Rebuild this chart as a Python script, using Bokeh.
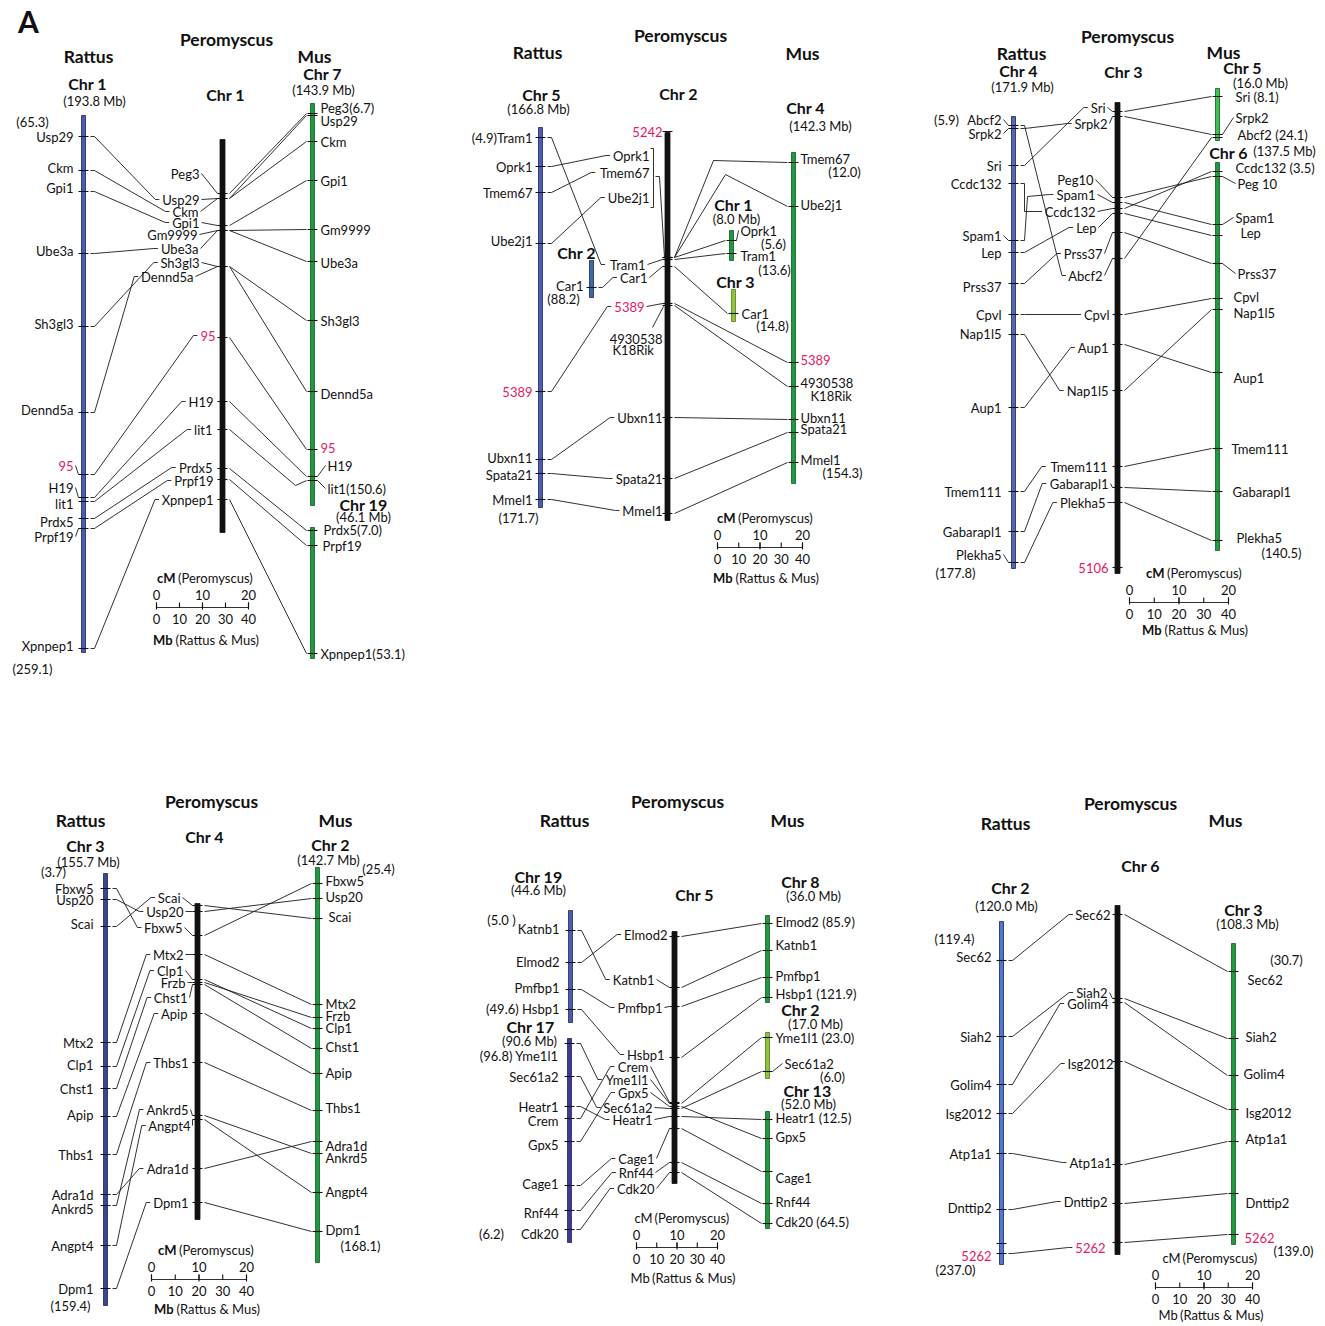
from bokeh.plotting import figure
from bokeh.models import Range1d
from bokeh.embed import file_html
from bokeh.resources import INLINE
from bokeh.core.properties import value

# ============================ DATA ============================
# Gene positions are map positions (drawing units, top -> bottom)

# ---- Panel 1: Rattus Chr1 / Peromyscus Chr1 / Mus Chr7+19
P1_RAT_GENES = ["Usp29", "Ckm", "Gpi1", "Ube3a", "Sh3gl3", "Dennd5a", "95", "H19", "lit1", "Prdx5", "Prpf19", "Xpnpep1"]
P1_RAT_POS = [136, 170, 191, 253, 326, 412, 474, 497, 501, 518, 528, 648]
P1_PERO_GENES = ["Peg3", "Usp29", "Ckm", "Gpi1", "Gm9999", "Ube3a", "Sh3gl3", "Dennd5a", "95", "H19", "lit1", "Prdx5", "Prpf19", "Xpnpep1"]
P1_PERO_POS = [193, 198, 198, 225, 230, 230, 266, 266, 337, 401, 429, 468, 479, 499]
P1_MUS_GENES = ["Peg3", "Usp29", "Ckm", "Gpi1", "Gm9999", "Ube3a", "Sh3gl3", "Dennd5a", "95", "H19", "lit1", "Prdx5", "Prpf19", "Xpnpep1"]
P1_MUS_LABELS = ["Peg3(6.7)", "Usp29", "Ckm", "Gpi1", "Gm9999", "Ube3a", "Sh3gl3", "Dennd5a", "95", "H19", "lit1(150.6)", "Prdx5(7.0)", "Prpf19", "Xpnpep1(53.1)"]
P1_MUS_CHR = [0, 0, 0, 0, 0, 0, 0, 0, 0, 0, 0, 1, 1, 1]
P1_MUS_POS = [113, 115, 141, 180, 229, 261, 320, 391, 449, 476, 480, 530, 545, 653]

# ---- Panel 2: Rattus Chr5+2 / Peromyscus Chr2 / Mus Chr4+1+3
P2_RAT_GENES = ["Tram1", "Oprk1", "Tmem67", "Ube2j1", "Car1", "5389", "Ubxn11", "Spata21", "Mmel1"]
P2_RAT_LABELS = ["(4.9)Tram1", "Oprk1", "Tmem67", "Ube2j1", "Car1", "5389", "Ubxn11", "Spata21", "Mmel1"]
P2_RAT_CHR = [0, 0, 0, 0, 1, 0, 0, 0, 0]
P2_RAT_POS = [137, 166, 192, 243, 287, 391, 459, 473, 499]
P2_PERO_GENES = ["5242", "Oprk1", "Tmem67", "Ube2j1", "Tram1", "Car1", "5389", "4930538K18Rik", "Ubxn11", "Spata21", "Mmel1"]
P2_PERO_LABELS = ["5242", "Oprk1", "Tmem67", "Ube2j1", "Tram1", "Car1", "5389", "4930538", "Ubxn11", "Spata21", "Mmel1"]
P2_PERO_POS = [131, 257, 257, 257, 259, 266, 303, 305, 417, 478, 513]
P2_MUS_GENES = ["Tmem67", "Ube2j1", "Oprk1", "Tram1", "Car1", "5389", "4930538K18Rik", "Ubxn11", "Spata21", "Mmel1"]
P2_MUS_LABELS = ["Tmem67", "Ube2j1", "Oprk1", "Tram1", "Car1", "5389", "4930538", "Ubxn11", "Spata21", "Mmel1"]
P2_MUS_CHR = [0, 0, 1, 1, 2, 0, 0, 0, 0, 0]
P2_MUS_POS = [162, 206, 240, 253, 313, 362, 386, 419, 432, 462]

# ---- Panel 3: Rattus Chr4 / Peromyscus Chr3 / Mus Chr5+6
P3_RAT_GENES = ["Abcf2", "Srpk2", "Sri", "Ccdc132", "Spam1", "Lep", "Prss37", "Cpvl", "Nap1l5", "Aup1", "Tmem111", "Gabarapl1", "Plekha5"]
P3_RAT_POS = [125, 128, 165, 183, 240, 252, 283, 314, 334, 407, 491, 531, 562]
P3_PERO_GENES = ["Sri", "Srpk2", "Peg10", "Spam1", "Ccdc132", "Lep", "Prss37", "Abcf2", "Cpvl", "Aup1", "Nap1l5", "Tmem111", "Gabarapl1", "Plekha5", "5106"]
P3_PERO_POS = [111, 116, 197, 202, 208, 213, 232, 258, 314, 344, 390, 466, 487, 502, 567]
P3_MUS_GENES = ["Sri", "Srpk2", "Abcf2", "Ccdc132", "Peg10", "Spam1", "Lep", "Prss37", "Cpvl", "Nap1l5", "Aup1", "Tmem111", "Gabarapl1", "Plekha5"]
P3_MUS_LABELS = ["Sri (8.1)", "Srpk2", "Abcf2 (24.1)", "Ccdc132 (3.5)", "Peg 10", "Spam1", "Lep", "Prss37", "Cpvl", "Nap1l5", "Aup1", "Tmem111", "Gabarapl1", "Plekha5"]
P3_MUS_CHR = [0, 0, 0, 1, 1, 1, 1, 1, 1, 1, 1, 1, 1, 1]
P3_MUS_POS = [96, 134, 137, 171, 176, 224, 235, 263, 298, 309, 372, 448, 491, 540]

# ---- Panel 4: Rattus Chr3 / Peromyscus Chr4 / Mus Chr2
P4_RAT_GENES = ["Fbxw5", "Usp20", "Scai", "Mtx2", "Clp1", "Chst1", "Apip", "Thbs1", "Adra1d", "Ankrd5", "Angpt4", "Dpm1"]
P4_RAT_POS = [888, 899, 926, 1042, 1066, 1088, 1116, 1154, 1194, 1205, 1245, 1288]
P4_PERO_GENES = ["Scai", "Usp20", "Fbxw5", "Mtx2", "Clp1", "Frzb", "Chst1", "Apip", "Thbs1", "Ankrd5", "Angpt4", "Adra1d", "Dpm1"]
P4_PERO_POS = [905, 911, 935, 954, 979, 982, 984, 1013, 1062, 1115, 1119, 1168, 1202]
P4_MUS_GENES = ["Fbxw5", "Usp20", "Scai", "Mtx2", "Frzb", "Clp1", "Chst1", "Apip", "Thbs1", "Adra1d", "Ankrd5", "Angpt4", "Dpm1"]
P4_MUS_POS = [883, 898, 918, 1004, 1017, 1028, 1048, 1073, 1110, 1141, 1153, 1192, 1231]

# ---- Panel 5: Rattus Chr19+17 / Peromyscus Chr5 / Mus Chr8+2+13
P5_RAT_GENES = ["Katnb1", "Elmod2", "Pmfbp1", "Hsbp1", "Yme1l1", "Sec61a2", "Heatr1", "Crem", "Gpx5", "Cage1", "Rnf44", "Cdk20"]
P5_RAT_LABELS = ["Katnb1", "Elmod2", "Pmfbp1", "(49.6) Hsbp1", "(96.8) Yme1l1", "Sec61a2", "Heatr1", "Crem", "Gpx5", "Cage1", "Rnf44", "Cdk20"]
P5_RAT_CHR = [0, 0, 0, 0, 1, 1, 1, 1, 1, 1, 1, 1]
P5_RAT_POS = [930, 962, 989, 1009, 1043, 1076, 1106, 1118, 1141, 1185, 1210, 1229]
P5_PERO_GENES = ["Elmod2", "Katnb1", "Pmfbp1", "Hsbp1", "Crem", "Yme1l1", "Gpx5", "Sec61a2", "Heatr1", "Cage1", "Rnf44", "Cdk20"]
P5_PERO_POS = [936, 987, 1006, 1057, 1102, 1103, 1106, 1108, 1116, 1128, 1162, 1172]
P5_MUS_GENES = ["Elmod2", "Katnb1", "Pmfbp1", "Hsbp1", "Yme1l1", "Sec61a2", "Heatr1", "Gpx5", "Cage1", "Rnf44", "Cdk20"]
P5_MUS_LABELS = ["Elmod2 (85.9)", "Katnb1", "Pmfbp1", "Hsbp1 (121.9)", "Yme1l1 (23.0)", "Sec61a2", "Heatr1 (12.5)", "Gpx5", "Cage1", "Rnf44", "Cdk20 (64.5)"]
P5_MUS_CHR = [0, 0, 0, 0, 1, 1, 2, 2, 2, 2, 2]
P5_MUS_POS = [923, 950, 977, 997, 1037, 1071, 1119, 1138, 1171, 1203, 1223]

# ---- Panel 6: Rattus Chr2 / Peromyscus Chr6 / Mus Chr3
P6_GENES = ["Sec62", "Siah2", "Golim4", "Isg2012", "Atp1a1", "Dnttip2", "5262"]
P6_RAT_POS = [960, 1036, 1084, 1113, 1153, 1209, 1253]
P6_PERO_POS = [914, 998, 1002, 1061, 1164, 1203, 1242]
P6_MUS_POS = [971, 1038, 1075, 1109, 1141, 1193, 1234]

# scale bar tick labels
SCALE_CM_TICKS = [0, 10, 20]
SCALE_MB_TICKS = [0, 10, 20, 30, 40]

# ============================ LAYOUT / STYLE ============================
FONT = "Lato"
FS = 13
RED = "#e5195e"
INK = "#111111"
MARKERS = {"95", "5389", "5242", "5106", "5262"}

BLUE, BLUE_E = "#4a5db3", "#1c2458"
BLUE_DK = "#3a4690"
INDIGO = "#3d3a96"
BLUE_BR = "#4f78d0"
GREEN, GREEN_E = "#1f9a40", "#0f5a22"
GREEN_LT = "#3fbf4f"
YGREEN, YGREEN_E = "#8dc43a", "#567a16"

P1_RAT_LAB_Y = [136, 167, 187, 250, 323, 409, 465, 487, 503, 521, 536, 645]
P1_PERO_LAB_Y = [173, 199, 211, 222, 234, 248, 262, 276, 335, 401, 429, 467, 480, 499]
P1_PERO_OFF = [-23, -23, -24, -23, -25, -24, -23, -29, -7, -9, -10, -10, -9, -9]
P1_MUS_LAB_Y = [107, 120, 141, 180, 229, 262, 320, 393, 447, 465, 488, 529, 545, 653]
P1_MUS_DX = [8, 8, 8, 8, 8, 8, 8, 8, 8, 15, 15, 11, 10, 8]

P2_RAT_LAB_Y = [137, 166, 192, 240, 285, 391, 457, 474, 499]
P2_PERO_LAB_Y = [131, 155, 172, 197, 264, 277, 306, 338, 417, 478, 510]
P2_PERO_OFF = [-5, -18, -18, -18, -22, -20, -23, -5, -5, -5, -5]
P2_MUS_LAB_Y = [158, 204, 230, 255, 313, 359, 382, 417, 428, 459]
P2_MUS_DX = [7, 7, 9, 9, 8, 7, 7, 7, 7, 7]

P3_RAT_LAB_Y = [119, 133, 165, 183, 235, 252, 286, 314, 333, 407, 491, 531, 554]
P3_PERO_LAB_Y = [107, 123, 179, 194, 211, 227, 253, 275, 314, 347, 390, 466, 483, 502, 567]
P3_PERO_OFF = [-12, -10, -24, -22, -22, -21, -15, -15, -8, -9, -9, -10, -9, -12, -9]
P3_MUS_LAB_Y = [96, 117, 134, 167, 183, 217, 232, 273, 296, 312, 377, 448, 491, 537]
P3_MUS_DX = [18, 18, 20, 18, 20, 18, 23, 20, 16, 16, 16, 14, 15, 19]

P4_RAT_LAB_Y = [888, 899, 923, 1042, 1064, 1088, 1114, 1154, 1194, 1208, 1245, 1288]
P4_PERO_LAB_Y = [897, 911, 927, 954, 970, 982, 997, 1013, 1062, 1109, 1125, 1168, 1202]
P4_PERO_OFF = [-17, -14, -15, -14, -14, -12, -10, -10, -9, -9, -7, -9, -9]
P4_MUS_LAB_Y = [880, 896, 916, 1003, 1015, 1027, 1046, 1072, 1107, 1145, 1157, 1191, 1229]
P4_MUS_DX = [8, 8, 11, 8, 8, 8, 8, 8, 8, 8, 8, 8, 8]

P5_RAT_LAB_Y = [928, 961, 987, 1008, 1055, 1076, 1106, 1120, 1144, 1183, 1212, 1233]
P5_PERO_LAB_Y = [934, 979, 1007, 1054, 1066, 1079, 1092, 1107, 1119, 1158, 1172, 1188]
P5_PERO_OFF = [-7, -20, -12, -10, -26, -26, -26, -22, -22, -20, -21, -20]
P5_MUS_LAB_Y = [921, 944, 975, 993, 1037, 1063, 1117, 1136, 1177, 1201, 1221]
P5_MUS_DX = [8, 8, 8, 8, 8, 17, 8, 8, 8, 8, 8]

P6_RAT_LAB_Y = [956, 1036, 1084, 1113, 1153, 1207, 1255]
P6_PERO_LAB_Y = [914, 992, 1003, 1063, 1162, 1201, 1247]
P6_PERO_OFF = [-7, -10, -9, -4, -6, -10, -12]
P6_MUS_LAB_Y = [979, 1036, 1073, 1112, 1138, 1202, 1237]
P6_MUS_DX = [14, 12, 10, 12, 12, 12, 11]

PANELS = [
    dict(
        rat=dict(genes=P1_RAT_GENES, labels=P1_RAT_GENES, pos=P1_RAT_POS, lab_y=P1_RAT_LAB_Y,
                 chr=[0] * len(P1_RAT_GENES), chroms=[(83, 115, 652, BLUE, BLUE_E)], off=-10, nolead=()),
        pero=dict(genes=P1_PERO_GENES, labels=P1_PERO_GENES, pos=P1_PERO_POS, lab_y=P1_PERO_LAB_Y,
                  off=P1_PERO_OFF, chrom=(222, 139, 532), nolead=()),
        mus=dict(genes=P1_MUS_GENES, labels=P1_MUS_LABELS, pos=P1_MUS_POS, lab_y=P1_MUS_LAB_Y,
                 chr=P1_MUS_CHR, dx=P1_MUS_DX, thr=8,
                 chroms=[(312, 103, 505, GREEN, GREEN_E), (312, 527, 658, GREEN, GREEN_E)]),
        titles=[("A", 28, 20, 30), ("Peromyscus", 226, 39, 17.5), ("Rattus", 88, 56, 17.5), ("Mus", 314, 56, 17.5),
                ("Chr 1", 87, 83, 16), ("Chr 1", 225, 94, 16), ("Chr 7", 322, 73, 16), ("Chr 19", 363, 504, 16)],
        notes=[("(193.8 Mb)", 94, 100, "center"), ("(143.9 Mb)", 323, 89, "center"), ("(46.1 Mb)", 363, 516, "center"),
               ("(65.3)", 32, 121, "center"), ("(259.1)", 32, 668, "center")],
        scale=dict(x0=156, y=607, L=92, cx=205, bold=True, mb_dy=32),
        rp_via={}, pm_via={"lit1": [(295, 485)]},
        lines=[], ticks=[]),
    dict(
        rat=dict(genes=P2_RAT_GENES, labels=P2_RAT_LABELS, pos=P2_RAT_POS, lab_y=P2_RAT_LAB_Y,
                 chr=P2_RAT_CHR, chroms=[(540, 127, 507, BLUE, BLUE_E), (591, 260, 297, "#3b6aa6", BLUE_E)],
                 off=-8, nolead=()),
        pero=dict(genes=P2_PERO_GENES, labels=P2_PERO_LABELS, pos=P2_PERO_POS, lab_y=P2_PERO_LAB_Y,
                  off=P2_PERO_OFF, chrom=(667, 132, 520),
                  nolead=("5242", "Oprk1", "Tmem67", "Ube2j1", "4930538K18Rik")),
        mus=dict(genes=P2_MUS_GENES, labels=P2_MUS_LABELS, pos=P2_MUS_POS, lab_y=P2_MUS_LAB_Y,
                 chr=P2_MUS_CHR, dx=P2_MUS_DX, thr=8,
                 chroms=[(793, 152, 483, GREEN, GREEN_E), (731, 230, 260, GREEN, GREEN_E),
                         (733, 289, 321, YGREEN, YGREEN_E)]),
        titles=[("Peromyscus", 680, 35, 17.5), ("Rattus", 537, 52, 17.5), ("Mus", 802, 53, 17.5),
                ("Chr 5", 541, 94, 16), ("Chr 2", 678, 93, 16), ("Chr 4", 805, 107, 16),
                ("Chr 2", 576, 252, 16), ("Chr 1", 733, 204, 16), ("Chr 3", 735, 281, 16)],
        notes=[("(166.8 Mb)", 538, 108, "center"), ("(142.3 Mb)", 820, 125, "center"), ("(8.0 Mb)", 736, 218, "center"),
               ("(88.2)", 563, 298, "center"), ("(171.7)", 518, 517, "center"), ("(12.0)", 844, 171, "center"),
               ("(5.6)", 773, 243, "center"), ("(13.6)", 774, 269, "center"), ("(14.8)", 772, 325, "center"),
               ("(154.3)", 842, 472, "center"), ("K18Rik", 612, 349, "left"), ("K18Rik", 810, 395, "left")],
        scale=dict(x0=717, y=547, L=85, cx=765, bold=True, mb_dy=30),
        rp_via={}, pm_via={"Tmem67": [(713, 160)], "Ube2j1": [(725, 174)]},
        lines=[([650, 653, 653, 650], [148, 148, 207, 207]), ([655, 659, 664], [176, 176, 257]),
               ([652, 663], [327, 306])],
        ticks=[]),
    dict(
        rat=dict(genes=P3_RAT_GENES, labels=P3_RAT_GENES, pos=P3_RAT_POS, lab_y=P3_RAT_LAB_Y,
                 chr=[0] * len(P3_RAT_GENES), chroms=[(1013, 116, 568, "#5468b3", BLUE_E)], off=-12, nolead=()),
        pero=dict(genes=P3_PERO_GENES, labels=P3_PERO_GENES, pos=P3_PERO_POS, lab_y=P3_PERO_LAB_Y,
                  off=P3_PERO_OFF, chrom=(1117, 102, 573), nolead=()),
        mus=dict(genes=P3_MUS_GENES, labels=P3_MUS_LABELS, pos=P3_MUS_POS, lab_y=P3_MUS_LAB_Y,
                 chr=P3_MUS_CHR, dx=P3_MUS_DX, thr=6,
                 chroms=[(1217, 88, 140, GREEN_LT, GREEN_E), (1217, 162, 550, GREEN, GREEN_E)]),
        titles=[("Peromyscus", 1127, 36, 17.5), ("Rattus", 1021, 53, 17.5), ("Mus", 1223, 52, 17.5),
                ("Chr 4", 1018, 70, 16), ("Chr 3", 1123, 71, 16), ("Chr 5", 1242, 67, 16), ("Chr 6", 1228, 152, 16)],
        notes=[("(171.9 Mb)", 1022, 86, "center"), ("(16.0 Mb)", 1260, 82, "center"), ("(137.5 Mb)", 1284, 150, "center"),
               ("(5.9)", 946, 119, "center"), ("(177.8)", 955, 572, "center"), ("(140.5)", 1281, 552, "center")],
        scale=dict(x0=1129, y=602, L=99, cx=1194, bold=True, mb_dy=27),
        rp_via={"Ccdc132": [(1024, 211)], "Spam1": [(1027, 196)]}, pm_via={},
        lines=[], ticks=[]),
    dict(
        rat=dict(genes=P4_RAT_GENES, labels=P4_RAT_GENES, pos=P4_RAT_POS, lab_y=P4_RAT_LAB_Y,
                 chr=[0] * len(P4_RAT_GENES), chroms=[(105, 873, 1305, BLUE_DK, BLUE_E)], off=-12, nolead=()),
        pero=dict(genes=P4_PERO_GENES, labels=P4_PERO_GENES, pos=P4_PERO_POS, lab_y=P4_PERO_LAB_Y,
                  off=P4_PERO_OFF, chrom=(197, 903, 1219), nolead=()),
        mus=dict(genes=P4_MUS_GENES, labels=P4_MUS_GENES, pos=P4_MUS_POS, lab_y=P4_MUS_LAB_Y,
                 chr=[0] * len(P4_MUS_GENES), dx=P4_MUS_DX, thr=8,
                 chroms=[(317, 867, 1262, GREEN, GREEN_E)]),
        titles=[("Peromyscus", 211, 801, 17.5), ("Rattus", 80, 820, 17.5), ("Mus", 335, 820, 17.5),
                ("Chr 4", 204, 836, 16), ("Chr 3", 85, 845, 16), ("Chr 2", 330, 844, 16)],
        notes=[("(155.7 Mb)", 88, 861, "center"), ("(3.7)", 53, 871, "center"), ("(159.4)", 70, 1305, "center"),
               ("(142.7 Mb)", 328, 859, "center"), ("(25.4)", 378, 868, "center"), ("(168.1)", 360, 1245, "center")],
        scale=dict(x0=151, y=1279, L=95, cx=206, bold=True, mb_dy=29),
        rp_via={}, pm_via={},
        lines=[], ticks=[]),
    dict(
        rat=dict(genes=P5_RAT_GENES, labels=P5_RAT_LABELS, pos=P5_RAT_POS, lab_y=P5_RAT_LAB_Y,
                 chr=P5_RAT_CHR, chroms=[(570, 910, 1022, BLUE, BLUE_E), (569, 1038, 1242, INDIGO, BLUE_E)],
                 off=-11, nolead=("Yme1l1",)),
        pero=dict(genes=P5_PERO_GENES, labels=P5_PERO_GENES, pos=P5_PERO_POS, lab_y=P5_PERO_LAB_Y,
                  off=P5_PERO_OFF, chrom=(674, 931, 1183), nolead=()),
        mus=dict(genes=P5_MUS_GENES, labels=P5_MUS_LABELS, pos=P5_MUS_POS, lab_y=P5_MUS_LAB_Y,
                 chr=P5_MUS_CHR, dx=P5_MUS_DX, thr=7,
                 chroms=[(767, 915, 1002, GREEN, GREEN_E), (767, 1032, 1078, YGREEN, YGREEN_E),
                         (767, 1111, 1228, GREEN, GREEN_E)]),
        titles=[("Peromyscus", 677, 801, 17.5), ("Rattus", 564, 820, 17.5), ("Mus", 787, 820, 17.5),
                ("Chr 19", 538, 876, 16), ("Chr 5", 694, 894, 16), ("Chr 8", 800, 881, 16),
                ("Chr 17", 530, 1026, 16), ("Chr 2", 800, 1009, 16), ("Chr 13", 807, 1090, 16)],
        notes=[("(44.6 Mb)", 538, 889, "center"), ("(5.0 )", 501, 919, "center"), ("(90.6 Mb)", 529, 1040, "center"),
               ("(6.2)", 491, 1233, "center"), ("(36.0 Mb)", 813, 895, "center"), ("(17.0 Mb)", 815, 1023, "center"),
               ("(6.0)", 832, 1076, "center"), ("(52.0 Mb)", 808, 1103, "center")],
        scale=dict(x0=636, y=1247, L=81, cx=682, bold=False, mb_dy=30),
        rp_via={}, pm_via={},
        lines=[], ticks=[]),
    dict(
        rat=dict(genes=P6_GENES, labels=P6_GENES, pos=P6_RAT_POS, lab_y=P6_RAT_LAB_Y,
                 chr=[0] * len(P6_GENES), chroms=[(1001, 921, 1264, BLUE_BR, BLUE_E)], off=-10, nolead=()),
        pero=dict(genes=P6_GENES, labels=P6_GENES, pos=P6_PERO_POS, lab_y=P6_PERO_LAB_Y,
                  off=P6_PERO_OFF, chrom=(1117, 905, 1254), nolead=("5262",)),
        mus=dict(genes=P6_GENES, labels=P6_GENES, pos=P6_MUS_POS, lab_y=P6_MUS_LAB_Y,
                 chr=[0] * len(P6_GENES), dx=P6_MUS_DX, thr=99,
                 chroms=[(1233, 943, 1244, GREEN, GREEN_E)]),
        titles=[("Peromyscus", 1130, 803, 17.5), ("Rattus", 1005, 823, 17.5), ("Mus", 1225, 820, 17.5),
                ("Chr 6", 1140, 865, 16), ("Chr 2", 1010, 887, 16), ("Chr 3", 1243, 909, 16)],
        notes=[("(120.0 Mb)", 1006, 905, "center"), ("(119.4)", 954, 938, "center"), ("(237.0)", 955, 1269, "center"),
               ("(108.3 Mb)", 1247, 923, "center"), ("(30.7)", 1286, 959, "center"), ("(139.0)", 1293, 1250, "center")],
        scale=dict(x0=1155, y=1287, L=97, cx=1210, bold=False, mb_dy=27),
        rp_via={}, pm_via={},
        lines=[], ticks=[(1001, 1243)]),
]

# ---------------- approximate text widths (for link endpoints) ----------------
_W = dict(zip("abcdefghijklmnopqrstuvwxyz",
              [0.51, 0.56, 0.46, 0.56, 0.52, 0.32, 0.50, 0.56, 0.24, 0.24, 0.50, 0.24, 0.84,
               0.56, 0.56, 0.56, 0.56, 0.37, 0.42, 0.35, 0.56, 0.50, 0.76, 0.49, 0.50, 0.45]))
_W.update(zip("ABCDEFGHIJKLMNOPQRSTUVWXYZ",
              [0.66, 0.63, 0.66, 0.73, 0.56, 0.54, 0.72, 0.75, 0.28, 0.40, 0.65, 0.50, 0.90,
               0.75, 0.80, 0.60, 0.80, 0.62, 0.52, 0.58, 0.72, 0.66, 1.00, 0.62, 0.60, 0.60]))
_W.update({d: 0.58 for d in "0123456789"})
_W.update({" ": 0.19, "(": 0.30, ")": 0.30, ".": 0.22, "&": 0.68})


def tw(s, size=FS, bold=False):
    return sum(_W.get(c, 0.55) for c in s) * size * (1.05 if bold else 1.0)


# ---------------- collectors ----------------
TEXTS = {}
LINES_X, LINES_Y = [], []
TK = dict(x0=[], y0=[], x1=[], y1=[])
BARS = dict(left=[], right=[], top=[], bottom=[], fill=[], edge=[])


def T(x, y, s, align="left", size=FS, bold=False, color=INK):
    d = TEXTS.setdefault((align, size, bold, color), {"x": [], "y": [], "t": []})
    d["x"].append(x)
    d["y"].append(y)
    d["t"].append(s)


def L(xs, ys):
    LINES_X.append(list(xs))
    LINES_Y.append(list(ys))


def tick(x0, y0, x1, y1):
    TK["x0"].append(x0); TK["y0"].append(y0); TK["x1"].append(x1); TK["y1"].append(y1)


def bar(x, top, bottom, fill, edge, hw):
    BARS["left"].append(x - hw); BARS["right"].append(x + hw)
    BARS["top"].append(top); BARS["bottom"].append(bottom)
    BARS["fill"].append(fill); BARS["edge"].append(edge)


def draw_panel(P):
    R, E, M = P["rat"], P["pero"], P["mus"]
    for (x, t, b, f, e) in R["chroms"]:
        bar(x, t, b, f, e, 2.0)
    xp, tp, bp = E["chrom"]
    bar(xp, tp, bp, INK, INK, 2.5)
    for (x, t, b, f, e) in M["chroms"]:
        bar(x, t, b, f, e, 2.0)

    rat_pt = {}
    for i, g in enumerate(R["genes"]):
        x = R["chroms"][R["chr"][i]][0]
        y, ly = R["pos"][i], R["lab_y"][i]
        tick(x - 5, y, x + 5, y)
        lr = x + R["off"]
        T(lr, ly, R["labels"][i], "right", color=RED if g in MARKERS else INK)
        if abs(ly - y) >= 5 and g not in R["nolead"]:
            L([lr + 2, x - 5], [ly, y])
        rat_pt[g] = (x + 7, y)

    pero_left, pero_tick = {}, {}
    for i, g in enumerate(E["genes"]):
        y, ly = E["pos"][i], E["lab_y"][i]
        tick(xp - 5, y, xp + 5, y)
        lr = xp + E["off"][i]
        lab = E["labels"][i]
        T(lr, ly, lab, "right", color=RED if g in MARKERS else INK)
        if g not in E["nolead"] and ((xp - 5) - (lr + 2) >= 5 or abs(ly - y) >= 4):
            L([lr + 2, xp - 5], [ly, y])
        pero_left[g] = (lr - tw(lab) - 3, ly)
        pero_tick[g] = (xp + 7, y)

    mus_pt = {}
    for i, g in enumerate(M["genes"]):
        x = M["chroms"][M["chr"][i]][0]
        y, ly = M["pos"][i], M["lab_y"][i]
        tick(x - 5, y, x + 5, y)
        ll = x + M["dx"][i]
        T(ll, ly, M["labels"][i], "left", color=RED if g in MARKERS else INK)
        if abs(ly - y) >= M["thr"]:
            L([x + 5, ll - 2], [y, ly])
        mus_pt[g] = (x - 6, y)

    for g, (x0, y0) in rat_pt.items():
        if g in pero_left:
            x1, y1 = pero_left[g]
            via = P["rp_via"].get(g, [])
            xs = [x0, x0 + 4] + [v[0] for v in via] + [x1 - 4, x1]
            ys = [y0, y0] + [v[1] for v in via] + [y1, y1]
            L(xs, ys)
    for g, (x0, y0) in pero_tick.items():
        if g in mus_pt:
            x1, y1 = mus_pt[g]
            via = P["pm_via"].get(g, [])
            L([x0] + [v[0] for v in via] + [x1], [y0] + [v[1] for v in via] + [y1])

    for (xs, ys) in P["lines"]:
        L(xs, ys)
    for (x, y) in P["ticks"]:
        tick(x - 5, y, x + 5, y)

    for (s, x, y, size) in P["titles"]:
        T(x, y, s, "center", size=size, bold=True)
    for (s, x, y, al) in P["notes"]:
        T(x, y, s, al)

    S = P["scale"]
    x0, yb, Ls = S["x0"], S["y"], S["L"]
    L([x0, x0 + Ls], [yb, yb])
    for v in SCALE_MB_TICKS:
        xx = x0 + v / SCALE_MB_TICKS[-1] * Ls
        tick(xx, yb - 5, xx, yb)
        T(xx, yb + 11, str(v), "center")
    for v in SCALE_CM_TICKS:
        xx = x0 + v / SCALE_CM_TICKS[-1] * Ls
        tick(xx, yb - 5, xx, yb + 2)
        T(xx, yb - 13, str(v), "center")
    for (u, rest, dy) in (("cM", "(Peromyscus)", -30), ("Mb", "(Rattus & Mus)", S["mb_dy"])):
        w1 = tw(u + " ", bold=S["bold"])
        w2 = tw(rest)
        start = S["cx"] - (w1 + w2) / 2
        T(start, yb + dy, u, "left", bold=S["bold"])
        T(start + w1, yb + dy, rest, "left")


for P in PANELS:
    draw_panel(P)

# ============================ FIGURE ============================
W, H = 1320, 1322
p = figure(width=W, height=H, x_range=Range1d(0, W), y_range=Range1d(H, 0),
           output_backend="svg", toolbar_location=None, min_border=0,
           x_axis_location=None, y_axis_location=None)
p.grid.visible = False
p.outline_line_color = None
p.background_fill_color = "white"
p.border_fill_color = "white"

p.multi_line(xs=LINES_X, ys=LINES_Y, line_color="#1a1a1a", line_width=0.9)
p.quad(left=BARS["left"], right=BARS["right"], top=BARS["top"], bottom=BARS["bottom"],
       fill_color=BARS["fill"], line_color=BARS["edge"], line_width=0.8)
p.segment(x0=TK["x0"], y0=TK["y0"], x1=TK["x1"], y1=TK["y1"], line_color=INK, line_width=1.1)

for (align, size, bold, color), d in TEXTS.items():
    p.text(x=d["x"], y=d["y"], text=d["t"], text_align=align, text_baseline="middle",
           text_font=value(FONT), text_font_size=f"{size}px",
           text_font_style="bold" if bold else "normal", text_color=color)

open("out.html", "w").write(file_html(p, INLINE))
